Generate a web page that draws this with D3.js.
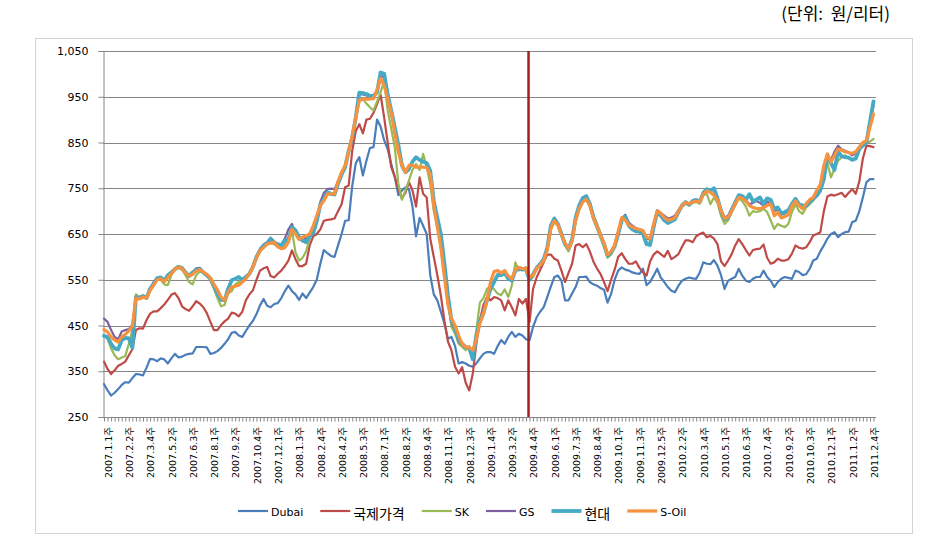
<!DOCTYPE html>
<html><head><meta charset="utf-8">
<script src="https://cdn.jsdelivr.net/npm/d3@7"></script>
<style>body{margin:0;background:#fff} svg{display:block}</style>
</head><body><svg id="c" width="934" height="560"></svg>
<script>
const tickLabels = ["2007.1.1주","2007.2.2주","2007.3.4주","2007.5.2주","2007.6.3주","2007.8.1주","2007.9.2주","2007.10.4주","2007.12.1주",
"2008.1.3주","2008.2.4주","2008.4.2주","2008.5.3주","2008.7.1주","2008.8.2주","2008.9.4주","2008.11.1주","2008.12.3주",
"2009.1.4주","2009.3.2주","2009.4.4주","2009.6.1주","2009.7.3주","2009.8.4주","2009.10.1주","2009.11.3주","2009.12.5주",
"2010.2.2주","2010.3.4주","2010.5.1주","2010.6.3주","2010.7.4주","2010.9.2주","2010.10.3주","2010.12.1주","2011.1.2주","2011.2.4주"];
const weeksPerLabel = 6;
const weekCount = 218;
const markerLabel = "2009.4.4주";
const yTicks = [250,350,450,550,650,750,850,950,1050];
const unitText = "(단위:  원/리터)";

const dubai = [
322,308,297,303,311,320,326,325,335,344,
343,341,358,377,376,372,378,376,367,378,
388,380,382,386,388,389,403,403,403,402,
388,390,394,401,410,420,434,436,428,425,
438,450,460,475,494,508,493,490,497,499,
510,525,537,525,518,506,520,510,522,534,
550,585,615,608,602,600,625,650,679,680,
755,805,818,778,810,838,840,900,885,855,
835,803,775,735,745,752,748,710,645,685,
668,650,560,518,505,480,454,421,425,405,
367,370,367,362,360,367,378,388,392,392,
388,405,418,410,425,436,425,432,428,420,
418,447,468,480,490,512,535,556,559,548,
505,505,520,534,556,556,557,545,540,537,
532,528,500,519,550,570,577,572,570,566,
564,563,574,538,545,559,574,555,545,534,
526,523,537,548,552,555,553,552,566,588,
585,584,593,581,560,530,548,552,556,574,
559,548,545,552,556,556,570,556,548,534,
545,552,556,554,552,570,567,560,562,574,
592,596,612,625,640,650,654,643,650,654,
655,676,679,700,730,763,770,770];

const intl = [
371,355,344,352,362,366,371,385,398,440,
444,443,462,476,481,481,488,496,506,517,
521,510,492,486,482,492,503,498,490,477,
458,440,440,451,459,465,478,476,470,480,
505,518,527,550,570,575,578,558,555,563,
570,580,592,614,595,580,580,585,625,645,
650,660,679,681,682,684,700,715,752,756,
832,875,890,870,900,902,915,934,955,905,
850,796,775,748,728,740,763,745,710,774,
738,730,640,600,560,515,460,415,395,360,
345,359,325,308,345,410,461,495,512,505,
512,510,505,483,505,490,472,508,498,508,
458,530,555,572,588,605,605,596,592,570,
545,565,585,625,628,621,628,612,590,575,
563,545,525,550,572,600,608,595,585,585,
590,576,566,559,590,605,612,606,600,613,
595,600,606,622,636,636,632,645,650,653,
643,646,640,628,590,580,592,606,625,639,
628,615,603,615,617,618,627,598,585,588,
596,592,592,595,607,625,620,618,621,632,
647,650,654,700,732,736,734,737,740,731,
740,748,738,765,815,843,842,840];

const sk = [
430,420,400,385,376,380,383,410,440,518,
512,516,512,530,542,553,550,540,538,560,
572,576,572,560,545,540,560,568,565,558,
548,530,510,492,495,520,525,540,545,552,
556,565,580,602,615,622,628,632,628,622,
618,625,640,658,610,592,598,612,640,660,
685,712,725,738,736,738,765,782,798,830,
865,905,940,945,935,927,920,940,960,985,
920,880,840,760,725,745,767,790,803,790,
825,796,760,700,665,620,560,500,447,432,
410,403,396,405,390,440,500,510,530,536,
529,520,516,529,512,537,588,570,574,577,
548,556,574,582,592,612,660,676,668,646,
625,612,632,676,702,720,726,710,682,662,
642,622,598,605,620,648,678,685,668,662,
658,656,652,632,630,668,698,692,682,676,
680,684,698,710,716,712,718,720,716,735,
738,715,730,718,690,672,680,698,712,728,
722,710,690,700,698,700,705,698,680,661,
672,668,665,672,698,715,700,694,708,715,
723,735,750,790,805,774,792,810,818,822,
815,812,815,832,847,848,852,858];

const gs = [
465,458,440,425,420,437,440,442,452,512,
512,515,512,532,545,555,553,546,560,566,
575,580,576,565,558,566,575,576,568,560,
552,535,518,505,505,528,548,553,556,550,
556,564,580,602,618,626,632,642,634,628,
626,640,660,672,650,640,634,642,648,656,
680,720,740,748,749,748,765,783,798,832,
862,905,955,955,953,950,950,958,995,993,
948,912,880,842,805,785,792,810,818,812,
808,805,790,718,678,646,572,500,456,440,
415,408,403,400,382,426,462,480,508,530,
546,562,562,567,555,550,572,578,575,576,
555,563,577,585,596,620,668,683,672,650,
630,620,640,688,714,730,733,716,690,670,
650,630,606,612,626,652,684,692,675,668,
663,660,658,640,638,670,702,696,690,684,
686,690,702,714,720,716,724,726,722,740,
746,745,748,730,704,686,690,706,722,733,
730,724,715,718,722,718,712,720,718,700,
704,692,695,700,714,725,712,710,712,722,
728,738,748,785,820,812,830,843,835,832,
828,822,826,838,846,852,890,930];

const hyundai = [
427,425,410,400,398,418,423,422,401,512,
510,514,510,530,540,553,555,548,560,566,
573,578,576,566,558,566,572,573,566,560,
553,537,520,507,505,530,549,552,556,549,
556,563,578,600,614,625,630,639,630,628,
625,636,638,665,658,643,636,632,645,652,
678,714,727,741,738,736,760,780,796,832,
860,905,959,958,956,952,952,960,1003,1000,
955,920,883,845,800,785,792,808,818,812,
808,805,788,722,685,650,585,515,461,445,
420,410,403,401,376,425,460,476,505,530,
545,560,560,565,552,548,570,575,572,573,
550,562,576,584,595,620,668,684,672,650,
628,618,638,686,712,728,733,716,688,668,
648,628,603,610,623,650,680,688,668,660,
656,655,650,628,626,665,698,690,680,674,
678,682,698,712,720,714,722,724,720,740,
748,744,750,728,700,682,685,702,718,735,
733,725,737,722,725,730,716,728,725,705,
708,695,698,702,716,727,715,712,712,720,
727,734,745,770,820,805,790,830,820,818,
817,812,815,836,843,850,895,940];

const soil = [
441,436,425,418,414,425,431,438,449,510,
508,512,510,527,538,550,552,546,555,563,
574,577,575,565,558,562,569,572,567,562,
554,540,528,512,505,523,534,536,538,545,
552,563,578,598,614,620,628,630,632,622,
618,620,632,660,650,638,643,646,650,668,
690,712,723,737,738,737,765,785,800,830,
865,905,942,945,945,945,946,965,990,975,
945,915,870,830,800,785,800,800,796,796,
796,795,780,712,665,620,556,495,465,450,
428,410,403,402,396,420,455,476,505,545,
568,570,565,570,558,552,572,577,574,575,
555,560,575,582,592,615,662,679,670,648,
630,618,635,680,705,720,726,712,685,668,
648,630,605,612,625,655,686,680,670,665,
662,660,657,643,640,672,700,695,686,680,
682,686,700,712,719,716,720,722,719,737,
744,741,735,725,701,684,686,700,716,730,
728,722,712,708,706,705,708,712,716,690,
697,685,688,692,712,722,712,705,716,725,
730,745,758,800,825,807,822,836,833,830,
828,826,830,840,850,854,883,912];

const seriesNames = ["Dubai","국제가격","SK","GS","현대","S-Oil"];
const seriesValues = [dubai, intl, sk, gs, hyundai, soil];
const seriesColors = ["#4A7EBB","#BE4B48","#98B954","#7D60A0","#46AAC5","#F69240"];
const seriesWidths = [2.2,2.2,2.2,2.2,3.8,3.2];

const svg = d3.select("#c");
const plot = {left:103, right:876, top:51, bottom:417};

// outer frame
svg.append("rect").attr("x",35.5).attr("y",38.5).attr("width",877).attr("height",495)
  .attr("fill","none").attr("stroke","#d4d4d4").attr("stroke-width",1);

const x = d3.scalePoint().domain(d3.range(weekCount)).range([plot.left+1, 873.5]);
const y = d3.scaleLinear().domain([yTicks[0], yTicks[yTicks.length-1]]).range([plot.bottom, plot.top]);

// gridlines
svg.append("g").selectAll("line").data(yTicks.slice(1)).join("line")
  .attr("x1",plot.left).attr("x2",plot.right)
  .attr("y1",d=>Math.round(y(d))+0.5).attr("y2",d=>Math.round(y(d))+0.5)
  .attr("stroke","#868686").attr("stroke-width",1);

// y axis
const yAxis = svg.append("g").attr("transform",`translate(${plot.left+0.5},0)`)
  .call(d3.axisLeft(y).tickValues(yTicks).tickSize(5).tickPadding(10).tickFormat(d3.format(",")));
yAxis.select(".domain").attr("stroke","#868686");
yAxis.selectAll(".tick line").attr("stroke","#868686");
yAxis.selectAll("text").attr("font-family","'DejaVu Sans', Verdana, sans-serif").attr("font-size","11px").attr("fill","#000");

// x axis with ticks every category
const xAxis = svg.append("g").attr("transform",`translate(0,${plot.bottom+0.5})`)
  .call(d3.axisBottom(x).tickValues(d3.range(weekCount)).tickSize(4).tickFormat(""));
xAxis.select(".domain").attr("stroke","#868686").attr("d",`M${plot.left},0H${plot.right}`);
xAxis.selectAll(".tick line").attr("stroke","#868686");

// x labels
svg.append("g").selectAll("text").data(tickLabels).join("text")
  .attr("transform",(d,i)=>`translate(${x(i*weeksPerLabel)+4.5},${plot.bottom+10}) rotate(-90)`)
  .attr("text-anchor","end").attr("dy","0.35em")
  .attr("font-family","'DejaVu Sans', 'Noto Sans CJK KR', sans-serif").attr("font-size","9.5px").attr("fill","#000")
  .text(d=>d);

// series lines
const line = d3.line().x((d,i)=>x(i)).y(d=>y(d));
svg.append("g").selectAll("path").data(seriesValues).join("path")
  .attr("d",d=>line(d)).attr("fill","none")
  .attr("stroke",(d,i)=>seriesColors[i]).attr("stroke-width",(d,i)=>seriesWidths[i])
  .attr("stroke-linejoin","round").attr("stroke-linecap","round");

// marker line
const markerIndex = tickLabels.indexOf(markerLabel)*weeksPerLabel;
svg.append("line").attr("x1",x(markerIndex)-1).attr("x2",x(markerIndex)-1)
  .attr("y1",plot.top).attr("y2",plot.bottom)
  .attr("stroke","#A3201E").attr("stroke-width",2.5);

// legend
const lg = svg.append("g");
let lx = 238;
seriesNames.forEach((n,i)=>{
  lg.append("line").attr("x1",lx).attr("x2",lx+30).attr("y1",511).attr("y2",511)
    .attr("stroke",seriesColors[i]).attr("stroke-width",seriesWidths[i]);
  const korean = /[\uAC00-\uD7A3]/.test(n);
  const t = lg.append("text").attr("x",lx+33).attr("y",korean?519:516)
    .attr("font-family",korean?"'Noto Sans CJK KR', sans-serif":"'DejaVu Sans', sans-serif")
    .attr("font-size",korean?"14px":"11px").attr("fill","#000").text(n);
  lx += 33 + t.node().getComputedTextLength() + 17;
});

// unit text
svg.append("text").attr("x",890).attr("y",20).attr("text-anchor","end")
  .attr("font-family","'Noto Sans CJK KR', sans-serif").attr("font-size","17px").attr("fill","#000")
  .attr("xml:space","preserve").style("white-space","pre")
  .text(unitText);
</script></body></html>
